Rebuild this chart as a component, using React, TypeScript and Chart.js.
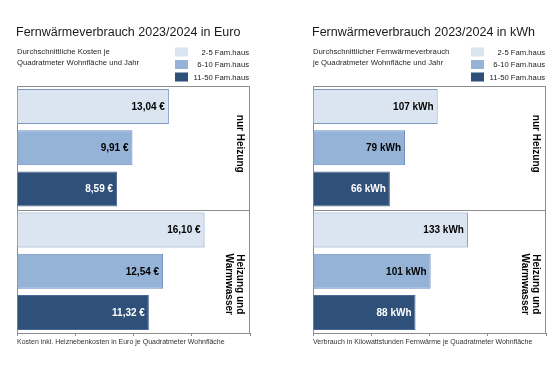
import React, { useEffect, useRef } from "react";
import { Chart, registerables } from "chart.js";

Chart.register(...registerables);

// ---- data ----
const categories = ["nur Heizung", "Heizung und Warmwasser"];
const categoryLines = [["nur Heizung"], ["Heizung und", "Warmwasser"]];
const seriesLabels = ["2-5 Fam.haus", "6-10 Fam.haus", "11-50 Fam.haus"];

const euro2to5 = [13.04, 16.1];
const euro6to10 = [9.91, 12.54];
const euro11to50 = [8.59, 11.32];

const kwh2to5 = [107, 133];
const kwh6to10 = [79, 101];
const kwh11to50 = [66, 88];

const euroAxis = { max: 20, step: 5 };
const kwhAxis = { max: 200, step: 50 };

const euroTitle = "Fernwärmeverbrauch 2023/2024 in Euro";
const euroSubtitle = ["Durchschnittliche Kosten je", "Quadratmeter Wohnfläche und Jahr"];
const euroFootnote = "Kosten inkl. Heiznebenkosten in Euro je Quadratmeter Wohnfläche";

const kwhTitle = "Fernwärmeverbrauch 2023/2024 in kWh";
const kwhSubtitle = ["Durchschnittlicher Fernwärmeverbrauch", "je Quadratmeter Wohnfläche und Jahr"];
const kwhFootnote = "Verbrauch in Kilowattstunden Fernwärme je Quadratmeter Wohnfläche";

// ---- styles ----
const FONT = "'Liberation Sans', Arial, sans-serif";
const fills = ["#dbe5f1", "#95b3d7", "#2f5079"];
const borders = ["#7b98c2", "#6a8cbc", "#4a6a96"];
const labelColors = ["#000000", "#000000", "#ffffff"];
const frameColor = "#8c8c8c";
const catLabelOffsets = [-4, 13];

function fmtEuro(v: number) {
  return v.toFixed(2).replace(".", ",") + " €";
}
function fmtKwh(v: number) {
  return Math.round(v) + " kWh";
}

function makePlugin(title: string, subtitle: string[], footnote: string, fmt: (v: number) => string) {
  return {
    id: "decor",
    beforeDraw(chart: any) {
      const { ctx, chartArea } = chart;
      ctx.save();
      ctx.fillStyle = "#ffffff";
      ctx.fillRect(0, 0, chart.width, chart.height);
      ctx.restore();
    },
    beforeDatasetsDraw(chart: any) {
      const { ctx, chartArea } = chart;
      const yScale = chart.scales.y;
      ctx.save();
      ctx.strokeStyle = frameColor;
      ctx.lineWidth = 1;
      ctx.beginPath();
      const l = Math.round(chartArea.left) + 0.5;
      const r = Math.round(chartArea.right) - 0.5;
      const t = Math.round(chartArea.top) + 0.5;
      const b = Math.round(chartArea.bottom);
      ctx.moveTo(l, b);
      ctx.lineTo(l, t);
      ctx.lineTo(r, t);
      ctx.lineTo(r, b);
      const sep = Math.round((yScale.getPixelForValue(0) + yScale.getPixelForValue(1)) / 2) + 0.5;
      ctx.moveTo(l, sep);
      ctx.lineTo(r, sep);
      ctx.stroke();
      ctx.restore();
    },
    afterDatasetsDraw(chart: any) {
      const { ctx, chartArea } = chart;
      const yScale = chart.scales.y;
      ctx.save();
      // value labels
      ctx.font = `bold 10px ${FONT}`;
      ctx.textAlign = "right";
      ctx.textBaseline = "middle";
      chart.data.datasets.forEach((ds: any, di: number) => {
        const meta = chart.getDatasetMeta(di);
        meta.data.forEach((bar: any, i: number) => {
          ctx.fillStyle = labelColors[di];
          ctx.fillText(fmt(ds.data[i]), bar.x - 4, bar.y + 0.5);
        });
      });
      // category labels (rotated)
      ctx.fillStyle = "#000000";
      ctx.textAlign = "center";
      categoryLines.forEach((lines, i) => {
        const cy = yScale.getPixelForValue(i) + catLabelOffsets[i];
        lines.forEach((line, li) => {
          const cx = chartArea.right - 10 - li * 11;
          ctx.save();
          ctx.translate(cx, cy);
          ctx.rotate(Math.PI / 2);
          ctx.fillText(line, 0, 0);
          ctx.restore();
        });
      });
      // title
      ctx.textAlign = "left";
      ctx.textBaseline = "alphabetic";
      ctx.fillStyle = "#1a1a1a";
      ctx.font = `12.5px ${FONT}`;
      ctx.fillText(title, chartArea.left - 1, 36);
      // subtitle
      ctx.fillStyle = "#262626";
      ctx.font = `7.7px ${FONT}`;
      subtitle.forEach((s, i) => ctx.fillText(s, chartArea.left, 54 + i * 10.5));
      // legend
      chart.data.datasets.forEach((ds: any, di: number) => {
        const cy = 52 + di * 12.5;
        ctx.fillStyle = ds.backgroundColor;
        ctx.fillRect(chartArea.right - 75, cy - 4.5, 13, 9);
        ctx.fillStyle = "#1a1a1a";
        ctx.textAlign = "right";
        ctx.textBaseline = "middle";
        ctx.fillText(ds.label, chartArea.right - 1, cy + 0.5);
      });
      // footnote
      ctx.textAlign = "left";
      ctx.textBaseline = "alphabetic";
      ctx.fillStyle = "#333333";
      ctx.font = `7px ${FONT}`;
      ctx.fillText(footnote, chartArea.left, 344);
      ctx.restore();
    },
  };
}

function BarPanel(props: {
  width: number;
  padRight: number;
  series: number[][];
  axis: { max: number; step: number };
  title: string;
  subtitle: string[];
  footnote: string;
  fmt: (v: number) => string;
}) {
  const ref = useRef<HTMLCanvasElement>(null);
  useEffect(() => {
    if (!ref.current) return;
    const chart = new Chart(ref.current, {
      type: "bar",
      data: {
        labels: categories,
        datasets: props.series.map((vals, i) => ({
          label: seriesLabels[i],
          data: vals,
          backgroundColor: fills[i],
          borderColor: borders[i],
          borderWidth: 1,
          categoryPercentage: 1,
          barPercentage: 0.85,
        })),
      },
      options: {
        indexAxis: "y",
        responsive: false,
        animation: false,
        layout: { padding: { left: 17, right: props.padRight, top: 86, bottom: 37 } },
        plugins: { legend: { display: false }, tooltip: { enabled: false }, title: { display: false } },
        scales: {
          x: {
            min: 0,
            max: props.axis.max,
            ticks: { display: false, stepSize: props.axis.step },
            grid: { drawOnChartArea: false, drawTicks: true, tickLength: 3, color: frameColor },
            border: { display: true, color: frameColor },
          },
          y: { display: false },
        },
      } as any,
      plugins: [makePlugin(props.title, props.subtitle, props.footnote, props.fmt)],
    });
    return () => chart.destroy();
  }, []);
  return <canvas ref={ref} width={props.width} height={373} style={{ width: props.width, height: 373, display: "block" }} />;
}

export default function App() {
  return (
    <div style={{ position: "absolute", left: 0, top: 0, width: 560, height: 373, background: "#fff", overflow: "hidden", display: "flex" }}>
      <BarPanel
        width={296}
        padRight={46}
        series={[euro2to5, euro6to10, euro11to50]}
        axis={euroAxis}
        title={euroTitle}
        subtitle={euroSubtitle}
        footnote={euroFootnote}
        fmt={fmtEuro}
      />
      <BarPanel
        width={264}
        padRight={14}
        series={[kwh2to5, kwh6to10, kwh11to50]}
        axis={kwhAxis}
        title={kwhTitle}
        subtitle={kwhSubtitle}
        footnote={kwhFootnote}
        fmt={fmtKwh}
      />
    </div>
  );
}
